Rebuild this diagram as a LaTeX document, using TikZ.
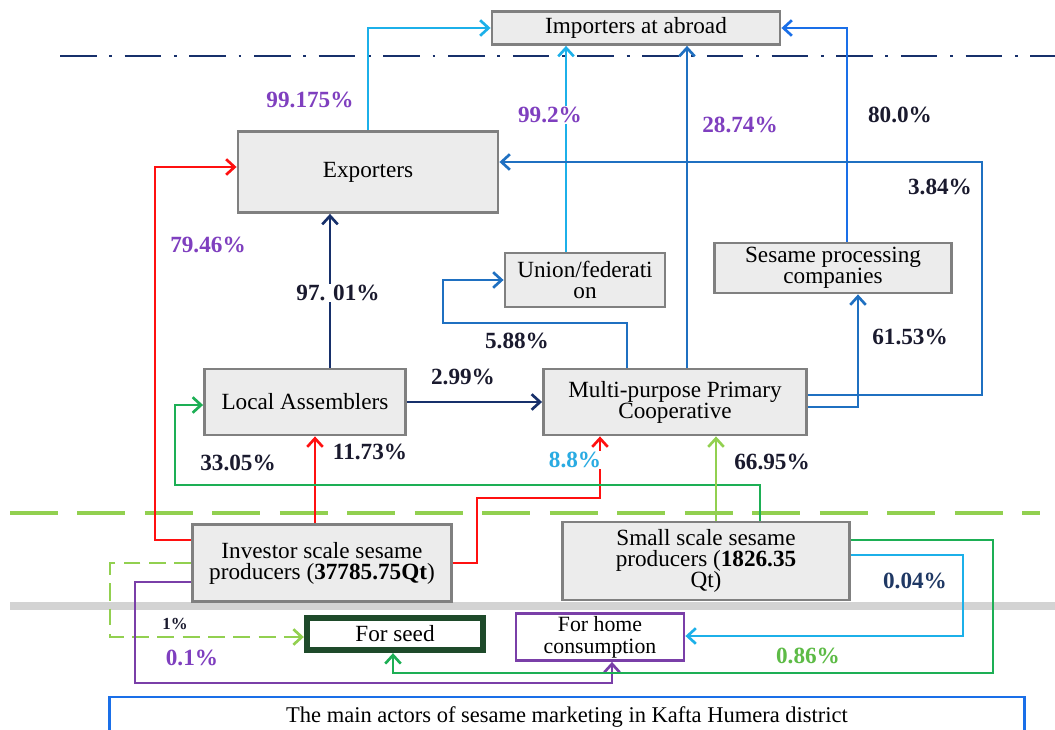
\documentclass[tikz,border=0pt]{standalone}
\usepackage{fontspec}
\setmainfont{Liberation Serif}
\usepackage{xcolor}
\usetikzlibrary{arrows.meta}
\definecolor{boxgray}{HTML}{ECECEC}
\definecolor{boxedge}{HTML}{808080}
\definecolor{navyline}{HTML}{17306B}
\definecolor{skyline}{HTML}{1CB0E9}
\definecolor{midblue}{HTML}{1F70C1}
\definecolor{brightblue}{HTML}{1A6FE8}
\definecolor{redline}{HTML}{FF1010}
\definecolor{greenline}{HTML}{1DAF55}
\definecolor{limeline}{HTML}{92D050}
\definecolor{violetline}{HTML}{7A3FA8}
\definecolor{sepgray}{HTML}{D3D3D3}
\definecolor{seedgreen}{HTML}{1E4A2A}
\definecolor{labelviolet}{HTML}{7F3FBF}
\definecolor{labeldark}{HTML}{1A1A2E}
\definecolor{labelsky}{HTML}{29ABE2}
\definecolor{labelgreen}{HTML}{5DBB46}
\definecolor{labelnavy}{HTML}{1F3864}
\tikzset{
    actor-box/.style = {draw=boxedge, fill=boxgray, line width=2pt, rectangle, align=center, inner sep=2pt, font=\fontsize{16.5}{15}\selectfont},
    seed-box/.style = {draw=seedgreen, fill=white, line width=4.5pt, rectangle, align=center, inner sep=2pt, font=\fontsize{16.5}{15}\selectfont},
    home-box/.style = {draw=violetline, fill=white, line width=2pt, rectangle, align=center, inner sep=1pt, font=\fontsize{15.5}{15.5}\selectfont},
    caption-box/.style = {draw=brightblue, fill=white, line width=1.6pt, rectangle, font=\fontsize{16}{17}\selectfont},
    pct-label/.style = {fill=white, inner sep=1pt, text=labeldark, font=\fontsize{16.5}{17}\selectfont\bfseries},
    flow/.style = {line width=1.9pt, -{Straight Barb[length=6pt, width=11pt]}},
}

\begin{document}
\begin{tikzpicture}[x=0.025cm, y=-0.025cm]
\useasboundingbox (0,0) rectangle (1055,730);
% separating lines
\draw[navyline, line width=2pt, dash pattern=on 26pt off 9pt on 2pt off 9pt] (60,56) -- (1055,56);
\draw[limeline, line width=2.4pt, dash pattern=on 34pt off 14pt] (10,513) -- (1040,513);
\draw[sepgray, line width=5pt] (10,606) -- (1055,606);

% actors
\node[actor-box, minimum width=7.2cm, minimum height=0.825cm] (imp) at (636,28) {Importers at abroad};
\node[actor-box, minimum width=6.5cm, minimum height=2.025cm] (exp) at (368,172) {Exporters};
\node[actor-box, minimum width=4cm, minimum height=1.35cm] (uni) at (585,280) {Union/federati\\on};
\node[actor-box, minimum width=5.925cm, minimum height=1.25cm] (proc) at (833,268) {Sesame processing\\companies};
\node[actor-box, minimum width=5.025cm, minimum height=1.65cm] (assem) at (305,402) {Local Assemblers};
\node[actor-box, minimum width=6.575cm, minimum height=1.65cm] (coop) at (675,402) {Multi-purpose Primary\\Cooperative};
\node[actor-box, minimum width=6.475cm, minimum height=1.925cm] (inv) at (322,563) {Investor scale sesame\\producers (\textbf{37785.75Qt})};
\node[actor-box, minimum width=7.175cm, minimum height=1.95cm] (small) at (706,561) {Small scale sesame\\producers (\textbf{1826.35}\\Qt)};
\node[seed-box, minimum width=4.4cm, minimum height=0.8cm] (seed) at (395,634) {For seed};
\node[home-box, minimum width=4.2cm, minimum height=1.175cm] (home) at (600,637) {For home\\consumption};
\node[caption-box, minimum width=22.875cm, minimum height=1cm] (cap) at (567,717) {The main actors of sesame marketing in Kafta Humera district};

% flows to importers
\draw[flow, skyline] (exp.north) |- (imp.west);
\draw[flow, skyline] (566,0 |- uni.north) -- (566,0 |- imp.south);
\draw[flow, midblue] (687,0 |- coop.north) -- (687,0 |- imp.south);
\draw[flow, brightblue] (847,0 |- proc.north) |- (imp.east);
% flows from cooperative
\draw[flow, midblue] (coop.east |- 0,395) -- (982,395) -- (982,162) -- (exp.east |- 0,162);
\draw[flow, midblue] (coop.east |- 0,407) -| (858,0 |- proc.south);
\draw[flow, midblue] (627,0 |- coop.north) |- (443,323) |- (uni.west);
% flows from assemblers
\draw[flow, navyline] (330,0 |- assem.north) -- (330,0 |- exp.south);
\draw[flow, navyline] (assem.east) -- (coop.west);
% flows from investors
\draw[flow, redline] (inv.west |- 0,540) -- (155,540) -- (155,167) -- (exp.west |- 0,167);
\draw[flow, redline] (315,0 |- inv.north) -- (315,0 |- assem.south);
\draw[flow, redline] (inv.east) -| (477,498) -| (600,0 |- coop.south);
\draw[flow, limeline, dash pattern=on 12pt off 6pt] (inv.west) -| (110,600) |- (seed.west |- 0,637);
\draw[flow, violetline] (inv.west |- 0,582) -| (135,683) -| (612,0 |- home.south);
% flows from small producers
\draw[flow, greenline] (760,0 |- small.north) |- (175,485) |- (assem.west |- 0,405);
\draw[flow, limeline] (716,0 |- small.north) -- (716,0 |- coop.south);
\draw[flow, greenline] (small.east |- 0,540) -| (993,673) -| (393,0 |- seed.south);
\draw[flow, skyline] (small.east |- 0,555) -| (963,636) -- (home.east |- 0,636);

% shares
\node[pct-label, text=labelviolet] (p-exp-imp) at (310,100) {99.175\%};
\node[pct-label, text=labelviolet] (p-uni-imp) at (550,115) {99.2\%};
\node[pct-label, text=labelviolet] (p-coop-imp) at (740,125) {28.74\%};
\node[pct-label] (p-proc-imp) at (900,115) {80.0\%};
\node[pct-label] (p-coop-exp) at (940,187) {3.84\%};
\node[pct-label, text=labelviolet] (p-inv-exp) at (208,245) {79.46\%};
\node[pct-label] (p-assem-exp) at (338,293) {97. 01\%};
\node[pct-label] (p-coop-uni) at (517,341) {5.88\%};
\node[pct-label] (p-coop-proc) at (910,337) {61.53\%};
\node[pct-label] (p-assem-coop) at (463,377) {2.99\%};
\node[pct-label] (p-small-assem) at (238,463) {33.05\%};
\node[pct-label] (p-inv-assem) at (370,452) {11.73\%};
\node[pct-label, text=labelsky] (p-inv-coop) at (575,460) {8.8\%};
\node[pct-label] (p-small-coop) at (772,462) {66.95\%};
\node[pct-label, font=\fontsize{12}{13}\selectfont\bfseries] (p-inv-seed) at (175,624) {1\%};
\node[pct-label, text=labelviolet] (p-inv-home) at (192,658) {0.1\%};
\node[pct-label, text=labelnavy] (p-small-home) at (915,581) {0.04\%};
\node[pct-label, text=labelgreen] (p-small-seed) at (808,656) {0.86\%};
\end{tikzpicture}
\end{document}
